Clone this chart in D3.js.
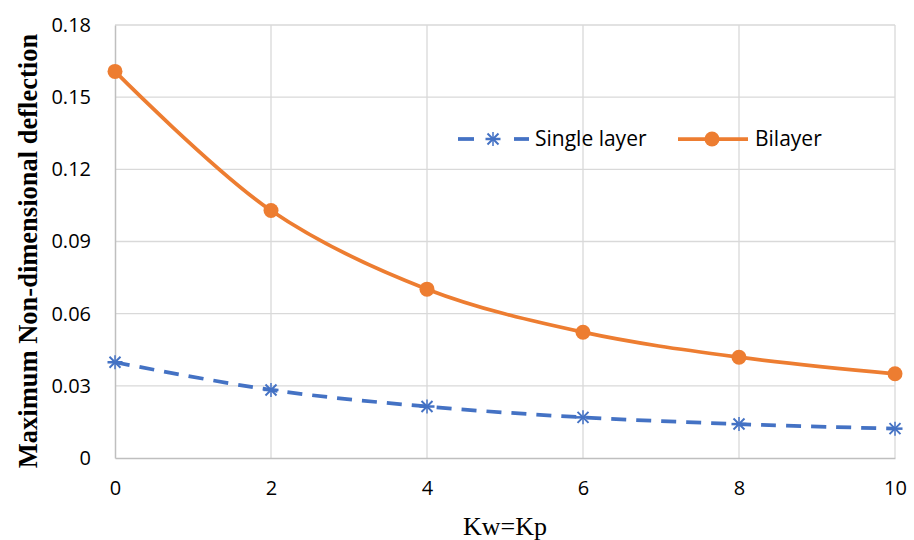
<!DOCTYPE html>
<html><head><meta charset="utf-8">
<script src="https://cdn.jsdelivr.net/npm/d3@7"></script>
<style>body{margin:0;background:#fff}</style>
</head><body>
<svg id="c" width="914" height="540"></svg>
<script>
const xValues = [0, 2, 4, 6, 8, 10];
const singleLayer = [0.0398, 0.0283, 0.0214, 0.0169, 0.0141, 0.0122];
const bilayer = [0.1607, 0.1029, 0.0702, 0.0523, 0.0419, 0.0350];
const xTicks = [0, 2, 4, 6, 8, 10];
const yTicks = [0, 0.03, 0.06, 0.09, 0.12, 0.15, 0.18];
const yTickLabels = ["0", "0.03", "0.06", "0.09", "0.12", "0.15", "0.18"];
const seriesNames = ["Single layer", "Bilayer"];

const svg = d3.select("#c");
const x = d3.scaleLinear().domain([0, 10]).range([115, 895]);
const y = d3.scaleLinear().domain([0, 0.18]).range([458, 25]);
const tickFont = "'Open Sans', sans-serif";
const serif = "'Liberation Serif', 'Times New Roman', serif";

// gridlines
const g = svg.append("g");
g.selectAll(".hg").data(yTicks.slice(1)).enter().append("line")
  .attr("x1", x(0)).attr("x2", x(10)).attr("y1", d => y(d)).attr("y2", d => y(d))
  .attr("stroke", "#d9d9d9").attr("stroke-width", 1.3);
g.selectAll(".vg").data(xTicks.slice(1)).enter().append("line")
  .attr("y1", y(0)).attr("y2", y(0.18)).attr("x1", d => x(d)).attr("x2", d => x(d))
  .attr("stroke", "#d9d9d9").attr("stroke-width", 1.3);

// axes
const xAxis = d3.axisBottom(x).tickValues(xTicks).tickSize(0).tickPadding(23).tickFormat(d3.format("d"));
const yAxis = d3.axisLeft(y).tickValues(yTicks).tickSize(0).tickPadding(24).tickFormat((d, i) => yTickLabels[i]);
const gx = svg.append("g").attr("transform", `translate(0,${y(0)})`).call(xAxis);
const gy = svg.append("g").attr("transform", `translate(${x(0)},0)`).call(yAxis);
[gx, gy].forEach(a => {
  a.select(".domain").attr("stroke", "#bfbfbf").attr("stroke-width", 1.5);
  a.selectAll("text").attr("font-family", tickFont).attr("font-size", 20).attr("fill", "#000");
});

// axis titles
svg.append("text").attr("x", 505).attr("y", 535).attr("text-anchor", "middle")
  .attr("font-family", serif).attr("font-size", 26)
  .text("Kw=Kp");
svg.append("text").attr("transform", `translate(37,251) rotate(-90)`).attr("text-anchor", "middle")
  .attr("font-family", serif).attr("font-size", 26.5).attr("font-weight", "bold")
  .text("Maximum Non-dimensional deflection");

const orange = "#ED7D31", blue = "#4472C4";
const line = d3.line().x((d, i) => x(xValues[i])).y(d => y(d)).curve(d3.curveCatmullRom.alpha(0.5));

// single layer
svg.append("path").datum(singleLayer).attr("d", line).attr("fill", "none")
  .attr("stroke", blue).attr("stroke-width", 3.75).attr("stroke-dasharray", "15,10");
function star(sel, cx, cy) {
  const gg = sel.append("g").attr("transform", `translate(${cx},${cy})`)
    .attr("stroke", blue).attr("stroke-width", 2);
  gg.append("line").attr("x1", -7.5).attr("x2", 7.5).attr("y1", 0).attr("y2", 0).attr("stroke-width", 2.5);
  gg.append("line").attr("x1", 0).attr("x2", 0).attr("y1", -7).attr("y2", 7).attr("stroke-width", 1.5);
  gg.append("line").attr("x1", -5.5).attr("x2", 5.5).attr("y1", -5.5).attr("y2", 5.5);
  gg.append("line").attr("x1", -5.5).attr("x2", 5.5).attr("y1", 5.5).attr("y2", -5.5);
}
singleLayer.forEach((d, i) => star(svg, x(xValues[i]), y(d)));

// bilayer
svg.append("path").datum(bilayer).attr("d", line).attr("fill", "none")
  .attr("stroke", orange).attr("stroke-width", 3.75);
svg.selectAll(".bm").data(bilayer).enter().append("circle")
  .attr("cx", (d, i) => x(xValues[i])).attr("cy", d => y(d)).attr("r", 7.5).attr("fill", orange);

// legend
const ly = 139;
svg.append("line").attr("x1", 458).attr("x2", 474).attr("y1", ly).attr("y2", ly).attr("stroke", blue).attr("stroke-width", 3.75);
svg.append("line").attr("x1", 514).attr("x2", 529).attr("y1", ly).attr("y2", ly).attr("stroke", blue).attr("stroke-width", 3.75);
star(svg, 493, ly);
svg.append("text").attr("x", 535).attr("y", ly).attr("dy", "0.35em").attr("font-family", tickFont).attr("font-size", 21).text(seriesNames[0]);
svg.append("line").attr("x1", 678).attr("x2", 748).attr("y1", ly).attr("y2", ly).attr("stroke", orange).attr("stroke-width", 3.75);
svg.append("circle").attr("cx", 712).attr("cy", ly).attr("r", 7.5).attr("fill", orange);
svg.append("text").attr("x", 755).attr("y", ly).attr("dy", "0.35em").attr("font-family", tickFont).attr("font-size", 21).text(seriesNames[1]);
</script>
</body></html>
